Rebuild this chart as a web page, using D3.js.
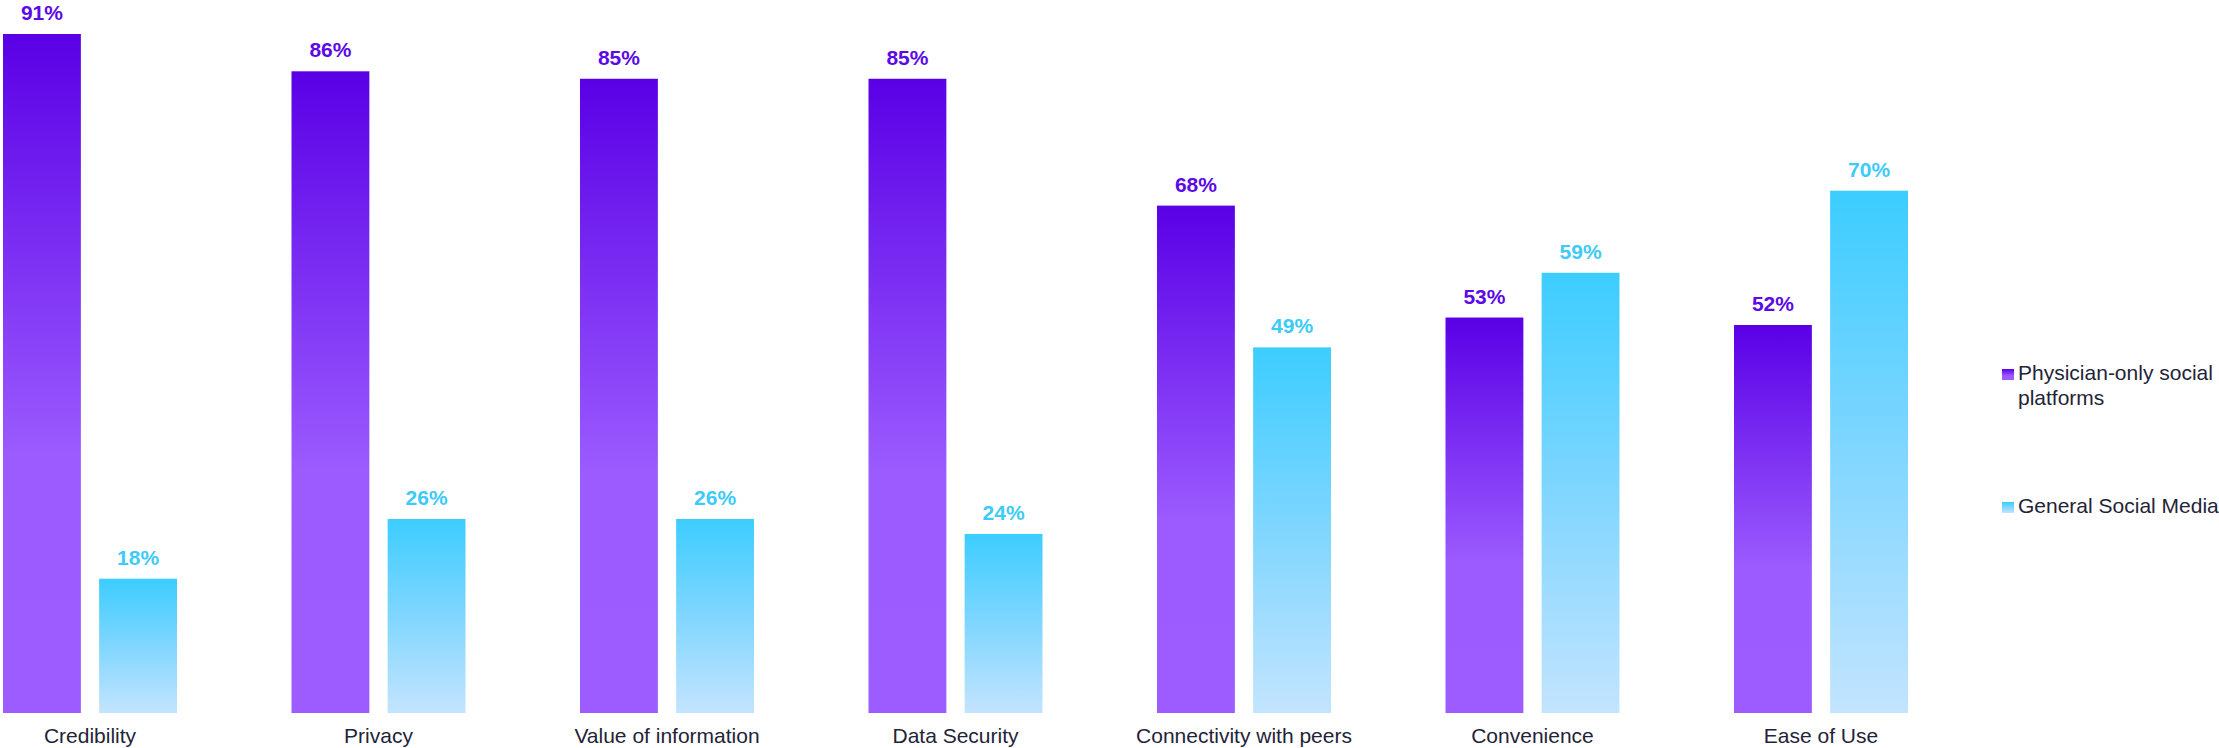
<!DOCTYPE html>
<html>
<head>
<meta charset="utf-8">
<script src="https://cdn.jsdelivr.net/npm/d3@7"></script>
<style>
  html, body { margin: 0; padding: 0; background: #fff; }
  svg { display: block; }
  text { font-family: Arial, "Liberation Sans", sans-serif; }
</style>
</head>
<body>
<svg id="chart" width="2219" height="748"></svg>
<script>
const categories = ["Credibility", "Privacy", "Value of information", "Data Security", "Connectivity with peers", "Convenience", "Ease of Use"];
const seriesNames = ["Physician-only social platforms", "General Social Media"];
const physicianOnly = [91, 86, 85, 85, 68, 53, 52];
const generalSocial = [18, 26, 26, 24, 49, 59, 70];

const svg = d3.select("#chart");
const defs = svg.append("defs");

function addGrad(id, stops) {
  const g = defs.append("linearGradient").attr("id", id)
    .attr("x1", 0).attr("y1", 0).attr("x2", 0).attr("y2", 1);
  stops.forEach(s => g.append("stop").attr("offset", s[0]).attr("stop-color", s[1]));
}
addGrad("gradPurple", [[0, "#5a00e6"], [0.62, "#9b5bfe"], [1, "#9c5cff"]]);
addGrad("gradCyan", [[0, "#3ccdff"], [0.5, "#80d6ff"], [1, "#c3e4fe"]]);

const fills = ["url(#gradPurple)", "url(#gradCyan)"];
const labelColors = ["#5b0ae6", "#3ecbfc"];
const textColor = "#1f2438";

const step = 288.5;
const x0 = d3.scaleBand().domain(categories).range([90 - step / 2, 90 - step / 2 + step * categories.length]).padding(0);
const bw = x0.bandwidth();
const x1 = d3.scaleBand().domain(seriesNames).range([bw / 2 - 87, bw / 2 + 87]).paddingInner(0.19).paddingOuter(0);
const y = d3.scaleLinear().domain([0, 91]).range([713, 34]);

const data = categories.map((c, i) => ({
  cat: c,
  vals: [
    { s: seriesNames[0], v: physicianOnly[i], k: 0 },
    { s: seriesNames[1], v: generalSocial[i], k: 1 }
  ]
}));

const groups = svg.append("g").selectAll("g").data(data).join("g")
  .attr("transform", d => `translate(${x0(d.cat)},0)`);

groups.selectAll("rect").data(d => d.vals).join("rect")
  .attr("x", d => x1(d.s))
  .attr("width", x1.bandwidth())
  .attr("y", d => y(d.v))
  .attr("height", d => y(0) - y(d.v))
  .attr("fill", d => fills[d.k]);

groups.selectAll("text.val").data(d => d.vals).join("text")
  .attr("class", "val")
  .attr("x", d => x1(d.s) + x1.bandwidth() / 2)
  .attr("y", d => y(d.v) - 14)
  .attr("text-anchor", "middle")
  .attr("font-size", 21)
  .attr("font-weight", "bold")
  .attr("fill", d => labelColors[d.k])
  .text(d => d.v + "%");

// category axis labels
const xAxis = d3.axisBottom(x0).tickSize(0).tickPadding(0);
const axG = svg.append("g").attr("transform", "translate(0,713)").call(xAxis);
axG.select(".domain").remove();
axG.selectAll("text")
  .attr("y", 30)
  .attr("dy", 0)
  .attr("font-size", 21)
  .attr("font-family", "Arial, 'Liberation Sans', sans-serif")
  .attr("fill", textColor);

// legend
const legend = svg.append("g");
const legendItems = [
  { lines: ["Physician-only social", "platforms"], y: 380, fill: "url(#gradPurple)" },
  { lines: ["General Social Media"], y: 513, fill: "url(#gradCyan)" }
];
legendItems.forEach(it => {
  legend.append("rect").attr("x", 2002).attr("y", it.y - 11).attr("width", 12).attr("height", 11).attr("fill", it.fill);
  const t = legend.append("text").attr("x", 2018).attr("y", it.y)
    .attr("font-size", 21).attr("fill", textColor);
  it.lines.forEach((l, i) => {
    t.append("tspan").attr("x", 2018).attr("dy", i === 0 ? 0 : 25).text(l);
  });
});
</script>
</body>
</html>
